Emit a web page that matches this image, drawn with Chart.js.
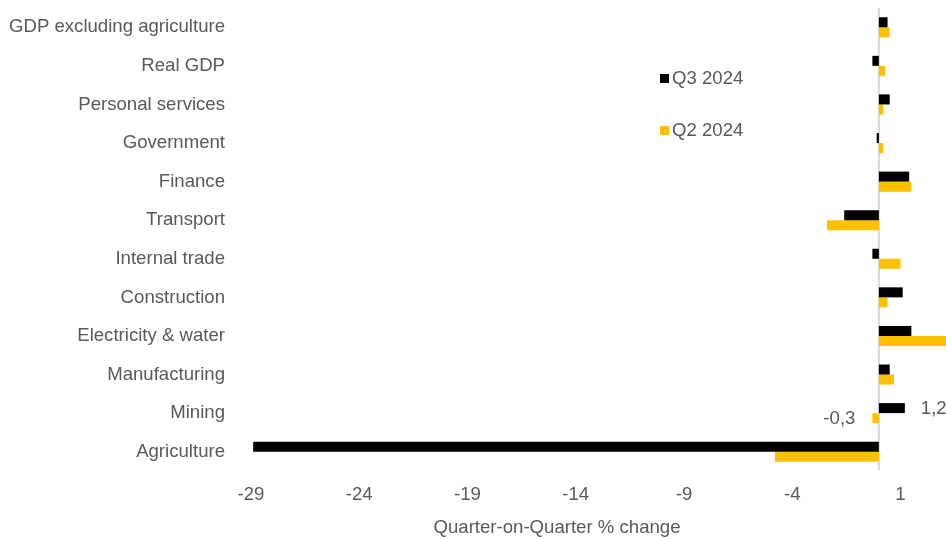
<!DOCTYPE html>
<html>
<head>
<meta charset="utf-8">
<script src="https://cdn.jsdelivr.net/npm/chart.js@4"></script>
<style>
  html, body { margin: 0; padding: 0; background: #fff; overflow: hidden; }
  #wrap { width: 946px; height: 539px; }
</style>
</head>
<body>
<div id="wrap"><canvas id="graficaSectores"></canvas></div>
<script>
const categorias = [
  'GDP excluding agriculture', 'Real GDP', 'Personal services', 'Government',
  'Finance', 'Transport', 'Internal trade', 'Construction',
  'Electricity & water', 'Manufacturing', 'Mining', 'Agriculture'
];
const q3_2024 = [0.4, -0.3, 0.5, -0.1, 1.4, -1.6, -0.3, 1.1, 1.5, 0.5, 1.2, -28.9];
const q2_2024 = [0.5, 0.3, 0.2, 0.2, 1.5, -2.4, 1.0, 0.4, 3.3, 0.7, -0.3, -4.8];
const marcasX = [-29, -24, -19, -14, -9, -4, 1];
// only these two points carry a value label in the original
const etiquetas = [
  { serie: 0, indice: 10, texto: '1,2' },
  { serie: 1, indice: 10, texto: '-0,3' }
];

const gris = '#595959';
const familia = "'Liberation Sans', Arial, sans-serif";
const fuente = { family: familia, size: 18.6 };

const extras = {
  id: 'extras',
  beforeDatasetsDraw(chart) {
    const { ctx, chartArea, scales } = chart;
    const x0 = scales.x.getPixelForValue(0);
    ctx.save();
    ctx.strokeStyle = '#d9d9d9';
    ctx.lineWidth = 2;
    ctx.beginPath();
    ctx.moveTo(x0, chartArea.top);
    ctx.lineTo(x0, chartArea.bottom - 1);
    ctx.stroke();
    ctx.restore();
  },
  afterDatasetsDraw(chart) {
    const { ctx } = chart;
    ctx.save();
    ctx.font = '18.6px ' + familia;
    ctx.fillStyle = gris;
    ctx.textBaseline = 'middle';
    etiquetas.forEach(e => {
      const barra = chart.getDatasetMeta(e.serie).data[e.indice];
      const valor = chart.data.datasets[e.serie].data[e.indice];
      if (valor >= 0) {
        ctx.textAlign = 'left';
        ctx.fillText(e.texto, barra.x + 16, barra.y + 1);
      } else {
        ctx.textAlign = 'right';
        ctx.fillText(e.texto, barra.x - 17, barra.y + 1);
      }
    });

    // leyenda dentro del area
    chart.data.datasets.forEach((ds, i) => {
      const y = 79 + i * 52;
      ctx.fillStyle = ds.backgroundColor;
      ctx.fillRect(660, y - 5, 9, 9);
      ctx.fillStyle = gris;
      ctx.textAlign = 'left';
      ctx.fillText(ds.label, 672, y);
    });

    ctx.textAlign = 'center';
    ctx.fillText('Quarter-on-Quarter % change', 557, 528);
    ctx.restore();
  }
};

new Chart(document.getElementById('graficaSectores').getContext('2d'), {
  type: 'bar',
  data: {
    labels: categorias,
    datasets: [
      { label: 'Q3 2024', data: q3_2024, backgroundColor: '#000000' },
      { label: 'Q2 2024', data: q2_2024, backgroundColor: '#ffc000' }
    ]
  },
  options: {
    indexAxis: 'y',
    responsive: true,
    maintainAspectRatio: false,
    animation: false,
    layout: { padding: { top: 8, right: 0, left: 0, bottom: 0 } },
    datasets: {
      bar: { categoryPercentage: 0.52, barPercentage: 1.0 }
    },
    plugins: {
      legend: { display: false },
      tooltip: { enabled: false }
    },
    scales: {
      x: {
        min: -29,
        max: 3.1,
        grid: { display: false },
        border: { display: false },
        afterBuildTicks(scale) {
          scale.ticks = marcasX.map(v => ({ value: v }));
        },
        afterFit(scale) {
          scale.height = 68;
          scale.paddingLeft = 0;
          scale.paddingRight = 0;
        },
        ticks: { color: gris, font: fuente, padding: 5, maxRotation: 0 }
      },
      y: {
        grid: { display: false },
        border: { display: false },
        afterFit(scale) {
          scale.width = 251;
          scale.paddingTop = 0;
          scale.paddingBottom = 0;
        },
        ticks: { color: gris, font: fuente, padding: 18 }
      }
    }
  },
  plugins: [extras]
});
</script>
</body>
</html>
